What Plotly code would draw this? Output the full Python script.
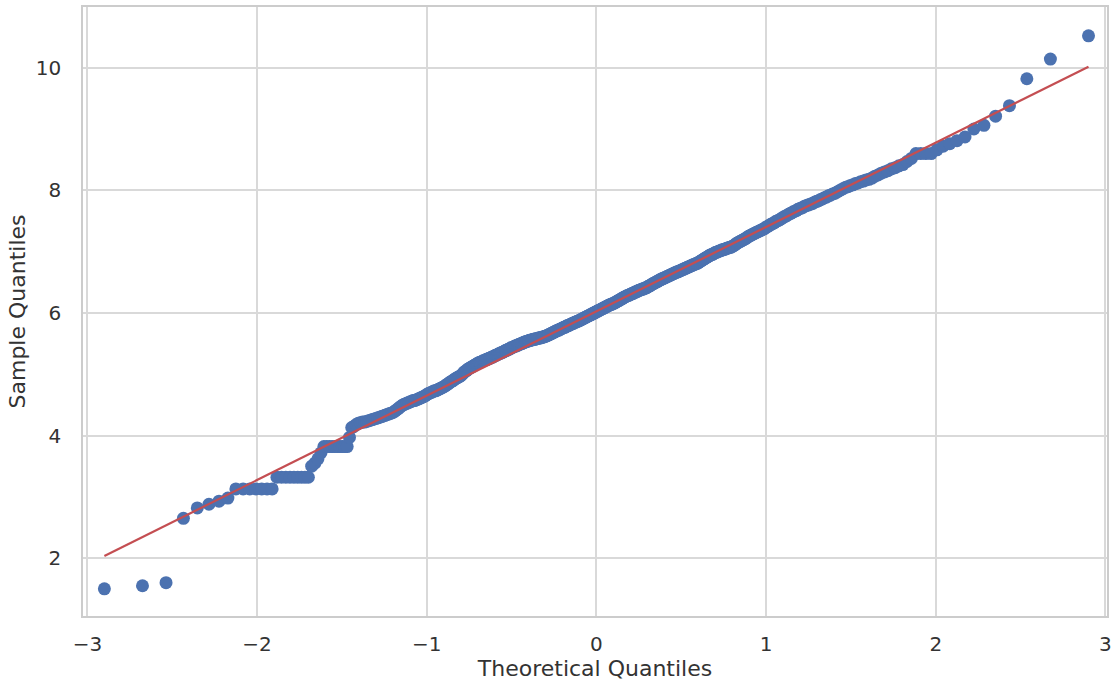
from statistics import NormalDist

import plotly.graph_objects as go

# Sorted sample values (ascending), one entry per observation
sample_low = [
    1.50, 1.55, 1.60, 2.65, 2.82, 2.88, 2.93, 2.98,
    3.13, 3.13, 3.13, 3.13, 3.13, 3.13, 3.13,
    3.32, 3.32, 3.32, 3.32, 3.32, 3.32, 3.32, 3.32, 3.32,
    3.50, 3.55, 3.62, 3.72,
    3.82, 3.82, 3.82, 3.82, 3.82, 3.82, 3.82, 3.82, 3.82, 3.82,
    3.97, 4.13,
    4.15, 4.18, 4.20, 4.21, 4.22, 4.22, 4.23, 4.24, 4.25, 4.26,
    4.27, 4.28, 4.29, 4.30, 4.31, 4.32, 4.33, 4.34, 4.35, 4.36,
    4.37, 4.38, 4.40, 4.42, 4.44, 4.46, 4.48, 4.50,
    4.51, 4.52, 4.53, 4.54, 4.55, 4.56, 4.57, 4.57, 4.58, 4.59,
    4.60, 4.61, 4.62, 4.63, 4.64, 4.65, 4.67,
    4.68, 4.69, 4.70, 4.71, 4.72, 4.73, 4.73, 4.74, 4.75, 4.76,
    4.77, 4.78, 4.79, 4.80,
    4.81, 4.83, 4.84, 4.85, 4.87, 4.88, 4.89, 4.90, 4.92, 4.93,
    4.94, 4.95, 4.96, 4.97, 4.98,
    5.00, 5.02, 5.04, 5.05, 5.06, 5.08, 5.09, 5.10, 5.11, 5.12,
    5.13, 5.14, 5.15, 5.16, 5.17, 5.18,
    5.19, 5.19, 5.20, 5.21, 5.22, 5.22, 5.23, 5.24, 5.24, 5.25,
    5.26, 5.26, 5.27, 5.28, 5.28, 5.29, 5.30,
    5.31, 5.31, 5.32, 5.33, 5.34, 5.34, 5.35, 5.36, 5.36, 5.37,
    5.38, 5.39, 5.39, 5.40, 5.41, 5.41, 5.42, 5.43,
    5.44, 5.44, 5.45, 5.46, 5.46, 5.47, 5.47, 5.48, 5.49, 5.49,
    5.50, 5.50, 5.51, 5.52, 5.52, 5.53, 5.53, 5.54, 5.54, 5.55,
    5.55, 5.56, 5.56, 5.56, 5.57, 5.57, 5.57, 5.58, 5.58, 5.58,
    5.59, 5.59, 5.59, 5.60, 5.60, 5.60, 5.61, 5.61, 5.62, 5.62,
    5.63, 5.63, 5.64, 5.65, 5.65, 5.66, 5.67, 5.67, 5.68, 5.69,
    5.69, 5.70, 5.71, 5.71, 5.72, 5.72, 5.73, 5.74, 5.74, 5.75,
    5.76, 5.76, 5.77, 5.77, 5.78, 5.79, 5.79, 5.80, 5.80, 5.81,
    5.82, 5.82, 5.83, 5.83, 5.84, 5.85, 5.85, 5.86, 5.86, 5.87,
    5.87, 5.88,
]

sample_high = [
    5.89, 5.89, 5.90, 5.91, 5.91, 5.92, 5.93, 5.93, 5.94, 5.95,
    5.95, 5.96, 5.97, 5.97, 5.98, 5.99, 5.99, 6.00, 6.01, 6.01,
    6.02,
    6.03, 6.03, 6.04, 6.05, 6.05, 6.06, 6.07, 6.07, 6.08, 6.09,
    6.09, 6.10, 6.11, 6.11, 6.12, 6.13, 6.13, 6.14, 6.14, 6.15,
    6.15,
    6.16, 6.17, 6.17, 6.18, 6.19, 6.20, 6.20, 6.21, 6.22, 6.23,
    6.23, 6.24, 6.25, 6.26, 6.26, 6.27, 6.28, 6.28, 6.29, 6.29,
    6.30,
    6.31, 6.31, 6.32, 6.32, 6.33, 6.34, 6.34, 6.35, 6.35, 6.36,
    6.37, 6.37, 6.38, 6.38, 6.39, 6.39, 6.40, 6.40, 6.41, 6.41,
    6.42,
    6.43, 6.44, 6.44, 6.45, 6.46, 6.47, 6.48, 6.48, 6.49, 6.50,
    6.51, 6.51, 6.52, 6.53, 6.54, 6.54, 6.55, 6.56, 6.56, 6.57,
    6.58, 6.58, 6.59, 6.60, 6.60, 6.61, 6.62, 6.62, 6.63, 6.64,
    6.64, 6.65, 6.66, 6.66, 6.67, 6.67, 6.68, 6.69, 6.69, 6.70,
    6.71, 6.71, 6.72, 6.73, 6.73, 6.74, 6.75, 6.75, 6.76, 6.77,
    6.77, 6.78, 6.79, 6.79, 6.80, 6.81, 6.81, 6.82,
    6.83, 6.84, 6.85, 6.86, 6.87, 6.88, 6.89, 6.90, 6.91, 6.92,
    6.93, 6.94, 6.95, 6.95, 6.96, 6.97, 6.98,
    6.99, 6.99, 7.00, 7.01, 7.01, 7.02, 7.03, 7.03, 7.04, 7.04,
    7.05, 7.06, 7.06, 7.07, 7.07, 7.08,
    7.09, 7.10, 7.11, 7.13, 7.14, 7.15, 7.16, 7.17, 7.18, 7.19,
    7.20, 7.21, 7.22, 7.24, 7.25,
    7.26, 7.27, 7.28, 7.29, 7.30, 7.31, 7.32, 7.33, 7.34, 7.35,
    7.36, 7.37, 7.38, 7.40,
    7.41, 7.42, 7.44, 7.45, 7.46, 7.47, 7.49, 7.50, 7.51, 7.52,
    7.54, 7.55,
    7.57, 7.58, 7.59, 7.61, 7.62, 7.63, 7.65, 7.66, 7.67, 7.69,
    7.70,
    7.71, 7.72, 7.74, 7.75, 7.76, 7.77, 7.78, 7.79, 7.81, 7.82,
    7.83, 7.85, 7.86, 7.88, 7.89, 7.91, 7.92, 7.94, 7.95,
    7.97, 7.99, 8.01, 8.03, 8.05, 8.06, 8.08,
    8.09, 8.11, 8.12, 8.14, 8.15, 8.17, 8.18,
    8.20, 8.23, 8.25, 8.28, 8.30,
    8.32, 8.35, 8.37, 8.40, 8.42,
    8.47, 8.52,
    8.60, 8.60, 8.60, 8.60,
    8.66, 8.72, 8.76, 8.81, 8.87, 9.00, 9.06, 9.21, 9.38,
    9.82, 10.14, 10.52,
]

sample = sorted(sample_low + sample_high)
n = len(sample)

# Theoretical normal quantiles at plotting positions i / (n + 1)
std_normal = NormalDist()
theoretical = [std_normal.inv_cdf(i / (n + 1)) for i in range(1, n + 1)]

# Standardized reference line: mean + std * z
mean = sum(sample) / n
std = (sum((v - mean) ** 2 for v in sample) / n) ** 0.5
line_x = [theoretical[0], theoretical[-1]]
line_y = [mean + std * z for z in line_x]

x_ticks = [-3, -2, -1, 0, 1, 2, 3]
y_ticks = [2, 4, 6, 8, 10]


def tick_text(v):
    return ("\u2212" + str(abs(v))) if v < 0 else str(v)


fig = go.Figure()
fig.add_trace(go.Scatter(
    x=theoretical, y=sample, mode="markers",
    marker=dict(color="#4C72B0", size=13, line=dict(width=0)),
    showlegend=False, hoverinfo="x+y",
))
fig.add_trace(go.Scatter(
    x=line_x, y=line_y, mode="lines",
    line=dict(color="#C44E52", width=2.2),
    showlegend=False, hoverinfo="skip",
))

axis_common = dict(
    showgrid=True, gridcolor="#d9d9d9", gridwidth=1.6,
    zeroline=False, showline=True, linecolor="#cccccc", linewidth=1.6,
    mirror=True, ticks="outside", tickcolor="rgba(0,0,0,0)",
    tickfont=dict(family="DejaVu Sans", size=20, color="#333333"),
)

fig.update_layout(
    width=1117, height=687,
    paper_bgcolor="white", plot_bgcolor="white",
    margin=dict(l=83, r=10, t=5, b=71),
    xaxis=dict(
        **axis_common, range=[-3.026, 3.009],
        tickvals=x_ticks, ticktext=[tick_text(v) for v in x_ticks],
        ticklen=9,
        title=dict(text="Theoretical Quantiles", standoff=5,
                   font=dict(family="DejaVu Sans", size=22, color="#333333")),
    ),
    yaxis=dict(
        **axis_common, range=[1.057, 10.99],
        tickvals=y_ticks, ticktext=[tick_text(v) for v in y_ticks],
        ticklen=16,
        title=dict(text="Sample Quantiles", standoff=4,
                   font=dict(family="DejaVu Sans", size=22, color="#333333")),
    ),
)

fig.write_html("out.html")
